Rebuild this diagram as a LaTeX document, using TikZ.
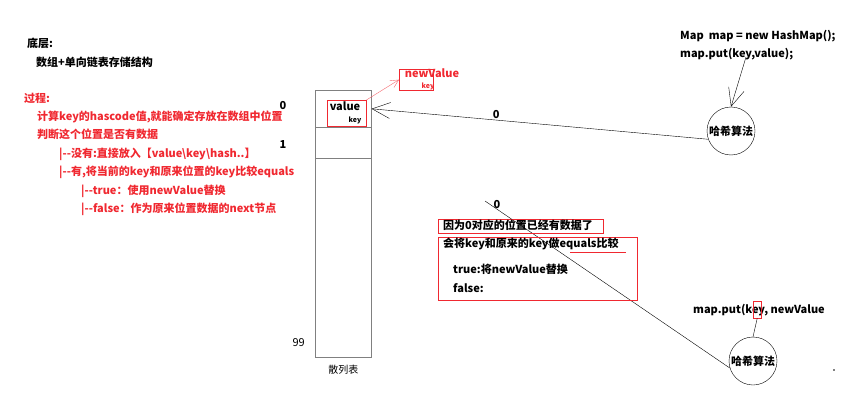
\documentclass[tikz,border=0pt]{standalone}
\usepackage{fontspec}
\setmainfont{Noto Sans CJK SC}
\usetikzlibrary{arrows.meta, positioning}
\definecolor{hmred}{RGB}{240,40,48}
\definecolor{hmgray}{RGB}{128,128,128}

\begin{document}
\begin{tikzpicture}[
    x=1pt, y=-1pt,
    txt/.style={inner sep=1pt, font=\fontsize{11}{13}\selectfont\bfseries, anchor=west,
                text height=8.5pt, text depth=2.5pt},
    rtxt/.style={txt, text=hmred},
    small/.style={inner sep=0pt, font=\fontsize{7}{8}\selectfont\bfseries},
    cell/.style={draw=hmgray, semithick, minimum width=56pt, inner sep=0pt, anchor=north west},
    redbox/.style={draw=hmred, thin, inner sep=0pt, anchor=north west},
    hash/.style={draw, circle, minimum size=48pt, inner sep=0pt,
                 font=\fontsize{11}{13}\selectfont\bfseries},
    arrow/.style={-{Straight Barb[length=18pt,width=16pt]}, thin},
    rarrow/.style={-{Straight Barb[length=8pt,width=8pt]}, thin, color=hmred!70},
    node distance=5pt
  ]
    \useasboundingbox (0,0) rectangle (859,409);

    % left column: notes
    \node[txt] (base)  at (26,45) {底层:};
    \node[txt, below=5pt of base.south west, anchor=north west, xshift=9pt] (struct) {数组+单向链表存储结构};
    \node[rtxt] (proc) at (23,100) {过程:};
    \node[rtxt, below=4pt of proc.south west, anchor=north west, xshift=13pt] (p1) {计算key的hascode值,就能确定存放在数组中位置};
    \node[rtxt, below=5pt of p1.south west, anchor=north west]               (p2) {判断这个位置是否有数据};
    \node[rtxt, below=5pt of p2.south west, anchor=north west, xshift=22pt]  (p3) {|-{}-没有:直接放入【value\textbackslash key\textbackslash hash..】};
    \node[rtxt, below=5pt of p3.south west, anchor=north west]               (p4) {|-{}-有,将当前的key和原来位置的key比较equals};
    \node[rtxt, below=5pt of p4.south west, anchor=north west, xshift=22pt]  (p5) {|-{}-true：使用newValue替换};
    \node[rtxt, below=5pt of p5.south west, anchor=north west]               (p6) {|-{}-false：作为原来位置数据的next节点};

    % hash table
    \node[cell, minimum height=37pt]  (cell0) at (315,90)  {};
    \node[cell, minimum height=31pt]  (cell1) at (315,127) {};
    \node[cell, minimum height=199pt] (rest)  at (315,158) {};
    \node[txt, anchor=center] (i0) at (283,107) {0};
    \node[txt, anchor=center] (i1) at (283,145) {1};
    \node[txt, font=\fontsize{11}{13}\selectfont, anchor=east] (i99) at (306,343) {99};
    \node[txt, font=\fontsize{10}{12}\selectfont, below=6pt of rest] (table) {散列表};

    \node[redbox, minimum width=39pt, minimum height=26pt] (vbox) at (327,100) {};
    \node[txt, anchor=center] (val) at (345,108) {value};
    \node[small] (vkey) at (355,120) {key};

    \node[redbox, minimum width=34pt, minimum height=21pt] (nvbox) at (399,69) {};
    \node[rtxt, anchor=center] (nval) at (432,75) {newValue};
    \node[small, text=hmred] (nkey) at (428,86) {key};
    \draw[rarrow] (vbox.north east) -- (nvbox.west);

    % first put
    \node[txt] (newmap) at (679,37) {Map\ \ map = new HashMap();};
    \node[txt] (put1)   at (679,55) {map.put(key,value);};
    \node[hash] (hash1) at (731,131) {哈希算法};
    \coordinate (k1) at (746,57);
    \draw[arrow] (k1) -- (hash1.north);
    \draw[arrow] (hash1.200) -- (cell0.east)
          node[pos=0.63, above=-2pt, txt, anchor=south] {0};

    % second put
    \node[txt] (put2) at (692,310) {map.put(key, newValue};
    \node[redbox, minimum width=8pt, minimum height=17pt] (kbox) at (753,301) {};
    \node[hash] (hash2) at (753,361) {哈希算法};
    \draw (kbox.south) -- (hash2.north);
    \coordinate (z2) at (485,201);
    \draw (z2) -- (hash2.197);
    \node[txt, anchor=center] (zero2) at (497,205) {0};

    % explanation boxes
    \node[redbox, minimum width=165pt, minimum height=14pt] (why) at (438,219) {};
    \node[txt] (whyt) at ([xshift=4pt]why.west) {因为0对应的位置已经有数据了};
    \node[redbox, minimum width=199pt, minimum height=63pt] (cmp) at (438,237) {};
    \node[txt] (c1) at (442,244) {会将key和原来的key做equals比较};
    \node[txt] (c2) at (452,270) {true:将newValue替换};
    \node[txt] (c3) at (452,289) {false:};
    \draw[hmred] (570,252) -- (626,252);

    \fill (834,370) circle (0.8);
\end{tikzpicture}
\end{document}
